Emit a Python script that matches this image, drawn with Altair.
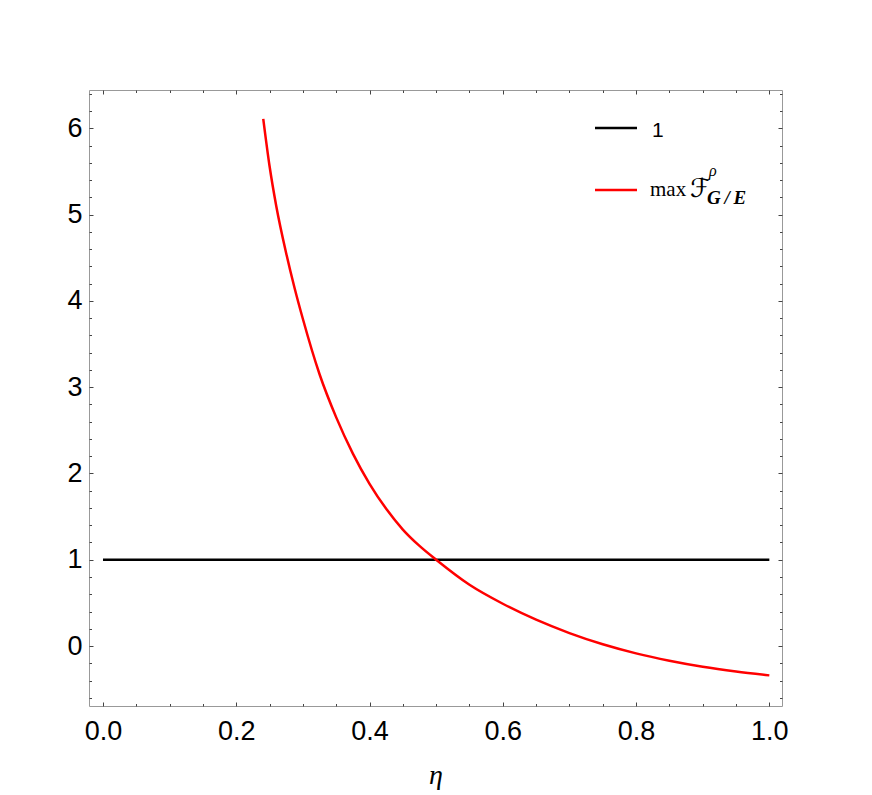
import altair as alt
import pandas as pd

# ---- data ----
eta_black = [0.0, 1.0]
val_black = [1.0, 1.0]

eta_red = [0.2405, 0.25, 0.26, 0.275, 0.2875, 0.3, 0.325, 0.35, 0.375,
           0.4, 0.425, 0.45, 0.475, 0.5, 0.55, 0.6, 0.65, 0.7, 0.75,
           0.8, 0.85, 0.9, 0.95, 1.0]
val_red = [6.11, 5.56, 5.10, 4.55, 4.15, 3.79, 3.15, 2.65, 2.23,
           1.88, 1.59, 1.35, 1.16, 1.0, 0.71, 0.49, 0.305, 0.15, 0.02,
           -0.085, -0.17, -0.24, -0.295, -0.34]

x_major = [0.0, 0.2, 0.4, 0.6, 0.8, 1.0]
x_minor = [0.05, 0.1, 0.15, 0.25, 0.3, 0.35, 0.45, 0.5, 0.55, 0.65, 0.7, 0.75, 0.85, 0.9, 0.95]
y_major = [0, 1, 2, 3, 4, 5, 6]
y_minor = [round(-0.6 + 0.2 * i, 1) for i in range(36) if abs(round(-0.6 + 0.2 * i, 1) - round(-0.6 + 0.2 * i)) > 1e-6]

legend_label_1 = "1"
legend_label_2 = ["max", "\u2131", "\u03c1", "G\u2009/\u2009E"]

black_df = pd.DataFrame({"eta": eta_black, "v": val_black})
red_df = pd.DataFrame({"eta": eta_red, "v": val_red})
one = pd.DataFrame({"a": [0]})

xs = alt.Scale(domain=[-0.021, 1.019], nice=False, zero=False)
ys = alt.Scale(domain=[-0.695, 6.444], nice=False, zero=False)
TICK = "#444444"

def ax(orient, values, major, labels=False, **kw):
    size = 4 if major else 2.5
    return alt.Axis(orient=orient, values=values, tickSize=size, offset=-size,
                    domain=False, grid=False, labels=labels, tickColor=TICK,
                    tickWidth=1, **kw)

lab = dict(labelFont="Liberation Sans", labelFontSize=27, labelColor="black",
           labelFlush=False, labelOverlap=False)

x_bot = ax("bottom", x_major, True, labels=True, format=".1f", labelPadding=12,
           title="\u03b7", titleFont="Liberation Serif", titleFontStyle="italic",
           titleFontWeight="normal", titleFontSize=28, titleColor="black",
           titleBaseline="alphabetic", titleY=81, **lab)
y_left = ax("left", y_major, True, labels=True, format="d", labelPadding=7,
            title=None, **lab)

black = alt.Chart(black_df).mark_line(color="black", strokeWidth=2.5).encode(
    x=alt.X("eta:Q", scale=xs, axis=x_bot),
    y=alt.Y("v:Q", scale=ys, axis=y_left),
)
red = alt.Chart(red_df).mark_line(color="#ff0000", strokeWidth=2.5, interpolate="monotone").encode(
    x=alt.X("eta:Q", scale=xs, axis=ax("bottom", x_minor, False, title=None)),
    y=alt.Y("v:Q", scale=ys, axis=ax("left", y_minor, False, title=None)),
)
top_major = alt.Chart(black_df).mark_line(strokeOpacity=0).encode(
    x=alt.X("eta:Q", scale=xs, axis=ax("top", x_major, True, title=None)),
    y=alt.Y("v:Q", scale=ys, axis=ax("right", y_major, True, title=None)),
)
top_minor = alt.Chart(black_df).mark_line(strokeOpacity=0).encode(
    x=alt.X("eta:Q", scale=xs, axis=ax("top", x_minor, False, title=None)),
    y=alt.Y("v:Q", scale=ys, axis=ax("right", y_minor, False, title=None)),
)

# ---- legend ----
leg_black = alt.Chart(one).mark_rule(color="black", strokeWidth=2.5).encode(
    x=alt.value(506), x2=alt.value(548), y=alt.value(38))
leg_red = alt.Chart(one).mark_rule(color="#ff0000", strokeWidth=2.5).encode(
    x=alt.value(506), x2=alt.value(548), y=alt.value(100))
t1 = alt.Chart(one).mark_text(text=legend_label_1, font="Liberation Sans", fontSize=21,
                              align="left", baseline="alphabetic", color="black").encode(
    x=alt.value(563), y=alt.value(47))
t_max = alt.Chart(one).mark_text(text=legend_label_2[0], font="Liberation Serif", fontSize=21,
                                 align="left", baseline="alphabetic", color="black").encode(
    x=alt.value(561), y=alt.value(106))
t_F = alt.Chart(one).mark_text(text=legend_label_2[1], font="DejaVu Sans", fontSize=26,
                               align="left", baseline="alphabetic", color="black").encode(
    x=alt.value(601), y=alt.value(107))
t_rho = alt.Chart(one).mark_text(text=legend_label_2[2], font="Liberation Serif", fontSize=16,
                                 fontStyle="italic", align="left", baseline="alphabetic",
                                 color="black").encode(x=alt.value(620), y=alt.value(86))
t_ge = alt.Chart(one).mark_text(text=legend_label_2[3], font="Liberation Serif", fontSize=19,
                                fontStyle="italic", fontWeight="bold", align="left",
                                baseline="alphabetic", color="black").encode(
    x=alt.value(618), y=alt.value(114))

chart = alt.layer(
    black, red, top_major, top_minor,
    leg_black, leg_red, t1, t_max, t_F, t_rho, t_ge,
).resolve_axis(x="independent", y="independent").properties(
    width=693, height=616,
    autosize=alt.AutoSizeParams(type="none"),
    padding={"left": 81, "top": 82, "right": 20, "bottom": 95},
).configure_view(stroke="#999999", strokeWidth=1)

chart.save("out.html", embed_options={"renderer": "svg", "actions": False})
